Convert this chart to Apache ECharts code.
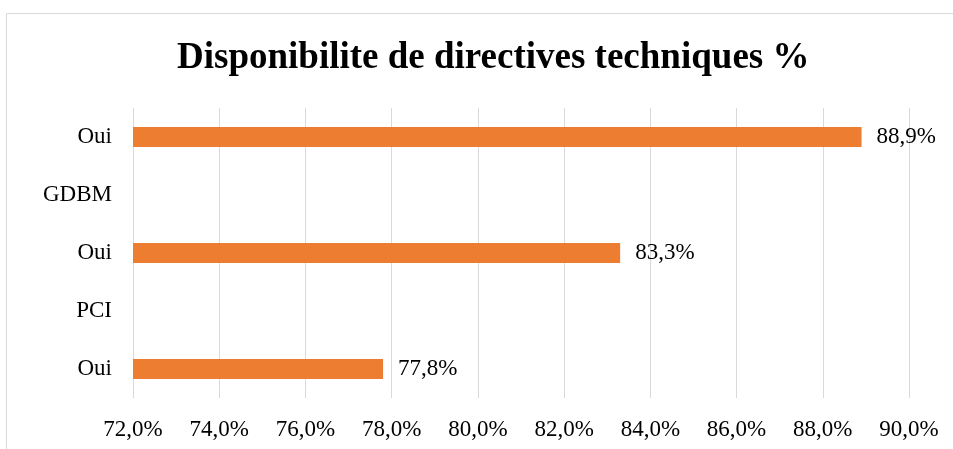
<!DOCTYPE html>
<html><head><meta charset="utf-8">
<script src="https://cdn.jsdelivr.net/npm/echarts@6/dist/echarts.min.js"></script>
<style>html,body{margin:0;padding:0;background:#fff}#c{width:953px;height:449px}</style>
</head><body><div id="c"></div>
<script>
const title = 'Disponibilite de directives techniques %';
const categories = ['Oui', 'PCI', 'Oui', 'GDBM', 'Oui'];
const values = [77.8, null, 83.3, null, 88.9];
const xMin = 72, xMax = 90, xStep = 2;

const fmt = v => v.toFixed(1).replace('.', ',') + '%';
const font = '"Liberation Serif", "Times New Roman", serif';
const chart = echarts.init(document.getElementById('c'));
chart.setOption({
  animation: false,
  backgroundColor: '#fff',
  title: {
    text: title, left: 172, top: 35,
    textStyle: {fontFamily: font, fontSize: 37, fontWeight: 'bold', color: '#000'}
  },
  graphic: [{
    type: 'rect', shape: {x: 6.5, y: 13.5, width: 1000, height: 500},
    style: {fill: 'none', stroke: '#d9d9d9', lineWidth: 1}, silent: true
  }],
  grid: {left: 133, right: 44, top: 108, bottom: 51, containLabel: false},
  xAxis: {
    type: 'value', min: xMin, max: xMax, interval: xStep,
    axisLine: {show: false}, axisTick: {show: false},
    splitLine: {lineStyle: {color: '#d9d9d9', width: 1}},
    axisLabel: {formatter: fmt, fontFamily: font, fontSize: 23, color: '#000', margin: 20}
  },
  yAxis: {
    type: 'category', data: categories,
    axisLine: {lineStyle: {color: '#d9d9d9', width: 1}}, axisTick: {show: false},
    axisLabel: {fontFamily: font, fontSize: 23, color: '#000', margin: 21, padding: [4, 0, 0, 0]}
  },
  series: [{
    type: 'bar', data: values, barWidth: 20,
    itemStyle: {color: '#ED7D31'},
    label: {show: true, position: 'right', distance: 15, formatter: p => fmt(p.value),
      fontFamily: font, fontSize: 23, color: '#000', padding: [4, 0, 0, 0]}
  }]
});
</script></body></html>
